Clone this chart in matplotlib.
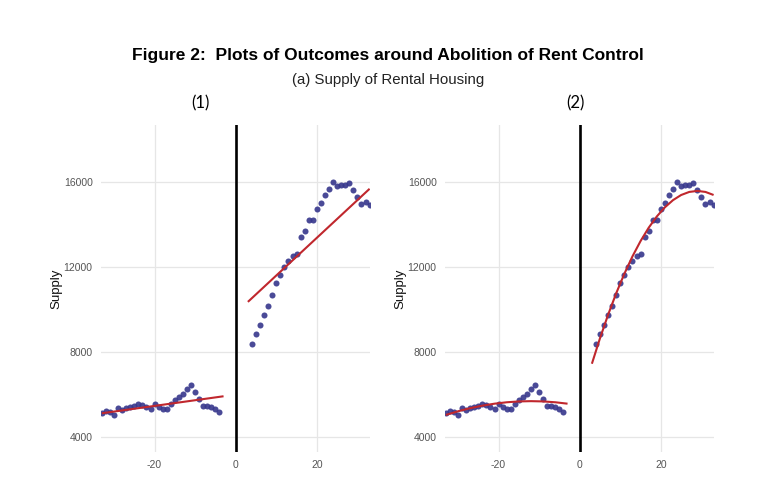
import matplotlib
matplotlib.use("Agg")
import matplotlib.pyplot as plt
from matplotlib import font_manager

# ---------------- data ----------------
x_pre = [-33, -32, -31, -30, -29, -28, -27, -26, -25, -24, -23, -22, -21, -20, -19,
         -18, -17, -16, -15, -14, -13, -12, -11, -10, -9, -8, -7, -6, -5, -4]
supply_pre = [5160, 5240, 5205, 5050, 5365, 5285, 5395, 5440, 5490, 5555, 5520, 5440,
              5330, 5555, 5440, 5320, 5320, 5555, 5755, 5910, 6025, 6275, 6460, 6145,
              5790, 5490, 5490, 5440, 5330, 5175]
x_post = [4, 5, 6, 7, 8, 9, 10, 11, 12, 13, 14, 15, 16, 17, 18, 19, 20, 21, 22, 23,
          24, 25, 26, 27, 28, 29, 30, 31, 32, 33]
supply_post = [8410, 8865, 9305, 9750, 10190, 10675, 11245, 11620, 12000, 12300, 12535,
               12615, 13435, 13700, 14220, 14205, 14755, 15040, 15420, 15685, 16015,
               15810, 15845, 15875, 15970, 15625, 15290, 14960, 15055, 14935]

# panel (1): linear fits
lin_pre_x = [-33, -3]
lin_pre_y = [5130, 5930]
lin_post_x = [3, 33]
lin_post_y = [10370, 15690]

# panel (2): quadratic fits
quad_pre_x = [-33, -30, -27, -24, -21, -18, -15, -12, -9, -6, -3]
quad_pre_y = [5052, 5224, 5369, 5488, 5581, 5647, 5687, 5700, 5687, 5647, 5581]
quad_post_x = [3, 5, 7, 9, 11, 13, 15, 17, 19, 21, 23, 25, 27, 29, 31, 33]
quad_post_y = [7460, 8661, 9767, 10778, 11692, 12510, 13232, 13858, 14387, 14820,
               15157, 15398, 15542, 15590, 15542, 15398]

y_ticks = [4000, 8000, 12000, 16000]
x_ticks = [-20, 0, 20]
x_ticklabels = ["-20", "0", "20"]

title = "Figure 2:  Plots of Outcomes around Abolition of Rent Control"
subtitle = "(a) Supply of Rental Housing"
panel_labels = ["(1)", "(2)"]
y_label = "Supply"

# ---------------- style ----------------
names = {f.name for f in font_manager.fontManager.ttflist}
narrow = "Liberation Sans Narrow" in names

plt.rcParams["font.family"] = ["Liberation Sans", "DejaVu Sans"]

DOT = "#36368c"
RED = "#c0272d"
GRID = "#e6e6e6"
TICK = "#555555"

fig = plt.figure(figsize=(7.76, 4.92), dpi=100)

if narrow:
    fig.text(0.5, 0.888, title, ha="center", va="center", fontsize=13,
             fontweight="bold", family=["Liberation Sans Narrow", "DejaVu Sans"])
    fig.text(0.5, 0.837, subtitle, ha="center", va="center", fontsize=11.5,
             family=["Liberation Sans Narrow", "DejaVu Sans"], color="#222222")
else:
    fig.text(0.5, 0.888, title, ha="center", va="center", fontsize=12.5,
             fontweight="bold")
    fig.text(0.5, 0.837, subtitle, ha="center", va="center", fontsize=10.8,
             color="#222222")

fig.text(0.2577, 0.789, panel_labels[0], ha="center", va="center", fontsize=12,
         family=["Lato", "DejaVu Sans"])
fig.text(0.741, 0.789, panel_labels[1], ha="center", va="center", fontsize=12,
         family=["Lato", "DejaVu Sans"])

axes_rects = [[0.1302, 0.0813, 0.3466, 0.6646],
              [0.5735, 0.0813, 0.3466, 0.6646]]

fits = [
    [(lin_pre_x, lin_pre_y), (lin_post_x, lin_post_y)],
    [(quad_pre_x, quad_pre_y), (quad_post_x, quad_post_y)],
]

for rect, fit in zip(axes_rects, fits):
    ax = fig.add_axes(rect)
    ax.set_xlim(-33.2, 33.1)
    ax.set_ylim(3308, 18690)
    for s in ax.spines.values():
        s.set_visible(False)
    ax.set_xticks(x_ticks)
    ax.set_xticklabels(x_ticklabels)
    ax.set_yticks(y_ticks)
    ax.tick_params(length=0, colors=TICK, labelsize=7.5, pad=6)
    ax.grid(True, color=GRID, linewidth=0.9)
    ax.set_axisbelow(True)
    ax.axvline(0, color="black", linewidth=1.9, zorder=2)
    ax.scatter(x_pre, supply_pre, s=19, color=DOT, alpha=0.9, linewidths=0, zorder=3)
    ax.scatter(x_post, supply_post, s=19, color=DOT, alpha=0.9, linewidths=0, zorder=3)
    for fx, fy in fit:
        ax.plot(fx, fy, color=RED, linewidth=1.5, zorder=4, solid_capstyle="butt")
    ax.set_ylabel(y_label, fontsize=9.5, color="#111111", labelpad=1)

fig.savefig("out.png", dpi=100)
